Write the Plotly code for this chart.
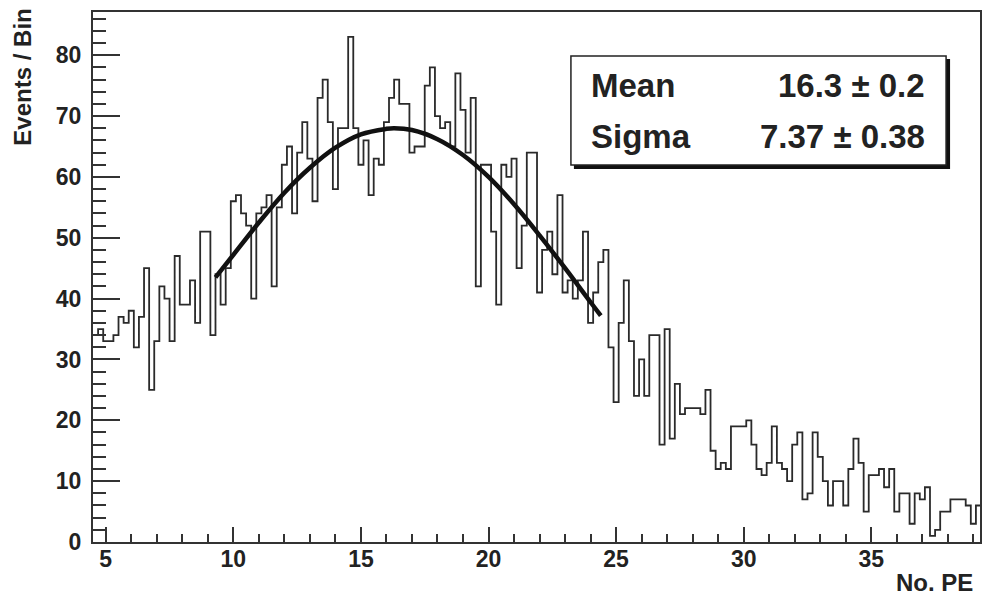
import numpy as np
import plotly.graph_objects as go

# ---------------- data ----------------
bin_start = 4.5
bin_width = 0.2
counts = [
    34, 35, 33, 33, 34, 37, 36, 38, 32, 37,
    45, 25, 33, 42, 40, 33, 47, 39, 39, 43,
    36, 51, 51, 34, 44, 39, 45, 56, 57, 54,
    52, 40, 54, 55, 57, 42, 55, 62, 65, 54,
    64, 69, 63, 56, 73, 76, 69, 58, 68, 68,
    83, 68, 62, 66, 57, 63, 62, 69, 73, 76,
    72, 72, 64, 65, 65, 75, 78, 70, 68, 69,
    65, 77, 71, 64, 73, 42, 62, 62, 51, 39,
    62, 60, 63, 45, 52, 64, 64, 41, 48, 51,
    44, 57, 41, 43, 40, 43, 51, 36, 41, 46,
    48, 32, 23, 36, 43, 33, 24, 30, 24, 34,
    34, 16, 35, 17, 26, 21, 22, 22, 22, 21,
    25, 15, 12, 13, 12, 19, 19, 19, 20, 16,
    12, 11, 13, 19, 13, 12, 10, 16, 18, 7,
    8, 18, 14, 10, 6, 10, 10, 6, 12, 17,
    13, 5, 11, 11, 12, 9, 12, 5, 8, 8,
    3, 8, 7, 9, 1, 2, 5, 5, 7, 7,
    7, 6, 3, 6,
]

# fitted gaussian curve
fit_x = [9.3, 10, 11, 12, 13, 14, 15, 16, 16.3, 17, 18, 19, 20, 21, 22, 23, 24, 24.4]
fit_y = [43.5, 47.2, 52.5, 57.4, 61.5, 64.8, 67.0, 67.9, 68.0, 67.7, 66.2, 63.6,
         60.0, 55.5, 50.4, 45.0, 39.4, 37.2]

stat_labels = ["Mean", "Sigma"]
stat_values = ["16.3 \u00b1 0.2", "7.37 \u00b1 0.38"]

x_ticks = [5, 10, 15, 20, 25, 30, 35]
y_ticks = [0, 10, 20, 30, 40, 50, 60, 70, 80]

x_title = "No. PE"
y_title = "Events / Bin"

# ---------------- geometry ----------------
W, H = 985, 595
PL, PR, PT, PB = 93, 982, 12, 542   # plot area in pixels


def fx(px):
    return (px - PL) / (PR - PL)


def fy(py):
    return (PB - py) / (PB - PT)


edges = bin_start + bin_width * np.arange(len(counts) + 1)
step_y = list(counts) + [counts[-1]]

FONT = "Liberation Sans, Arial, Helvetica, sans-serif"
INK = "#222222"
LINE = "#333333"

fig = go.Figure()

fig.add_trace(go.Scatter(
    x=edges, y=step_y, mode="lines",
    line=dict(shape="hv", color="#2a2a2a", width=1.8),
    hoverinfo="skip", showlegend=False,
))

fig.add_trace(go.Scatter(
    x=fit_x, y=fit_y, mode="lines",
    line=dict(shape="spline", color="#111111", width=4.5),
    hoverinfo="skip", showlegend=False,
))

tickfont = dict(family=FONT, size=23, color=INK, weight="bold")

fig.update_xaxes(
    range=[4.5, 39.26], showgrid=False, zeroline=False,
    showline=True, mirror=True, linecolor=LINE, linewidth=2,
    ticks="inside", ticklen=15, tickwidth=1.5, tickcolor=LINE,
    tickvals=x_ticks, ticktext=[str(v) for v in x_ticks],
    tickfont=tickfont, ticklabelstandoff=-5,
    minor=dict(ticks="inside", ticklen=8, dtick=1, tick0=0,
               tickwidth=1.5, tickcolor=LINE, showgrid=False),
)
fig.update_yaxes(
    range=[0, 87.1], showgrid=False, zeroline=False,
    showline=True, mirror=True, linecolor=LINE, linewidth=2,
    ticks="inside", ticklen=27, tickwidth=1.5, tickcolor=LINE,
    tickvals=y_ticks, ticktext=[str(v) for v in y_ticks],
    tickfont=tickfont, ticklabelstandoff=5,
    minor=dict(ticks="inside", ticklen=13, dtick=2, tick0=0,
               tickwidth=1.5, tickcolor=LINE, showgrid=False),
)

# statistics box with shadow
shapes = [
    dict(type="rect", xref="paper", yref="paper",
         x0=fx(575), x1=fx(952), y0=fy(169), y1=fy(59),
         fillcolor="#111111", line=dict(width=0), layer="above"),
    dict(type="rect", xref="paper", yref="paper",
         x0=fx(572), x1=fx(948), y0=fy(165), y1=fy(56),
         fillcolor="white", line=dict(color="#222222", width=1.5), layer="above"),
]

annotations = []
row_y = [86, 137]
for lab, val, ry in zip(stat_labels, stat_values, row_y):
    annotations.append(dict(
        xref="paper", yref="paper", x=fx(590), y=fy(ry),
        xanchor="left", yanchor="middle", text=lab, showarrow=False,
        font=dict(family=FONT, size=33, color=INK, weight="bold")))
    annotations.append(dict(
        xref="paper", yref="paper", x=fx(929), y=fy(ry),
        xanchor="right", yanchor="middle", text=val, showarrow=False,
        font=dict(family=FONT, size=33, color=INK, weight="bold")))

annotations.append(dict(
    xref="paper", yref="paper", x=fx(22), y=fy(7),
    xanchor="center", yanchor="top", text=y_title, textangle=-90,
    showarrow=False, font=dict(family=FONT, size=24, color=INK, weight="bold")))
annotations.append(dict(
    xref="paper", yref="paper", x=fx(977), y=fy(582),
    xanchor="right", yanchor="middle", text=x_title,
    showarrow=False, font=dict(family=FONT, size=24, color=INK, weight="bold")))

fig.update_layout(
    width=W, height=H,
    margin=dict(l=PL, r=W - PR, t=PT, b=H - PB, pad=0),
    paper_bgcolor="white", plot_bgcolor="white",
    shapes=shapes, annotations=annotations,
    showlegend=False,
)

fig.write_html("out.html")
